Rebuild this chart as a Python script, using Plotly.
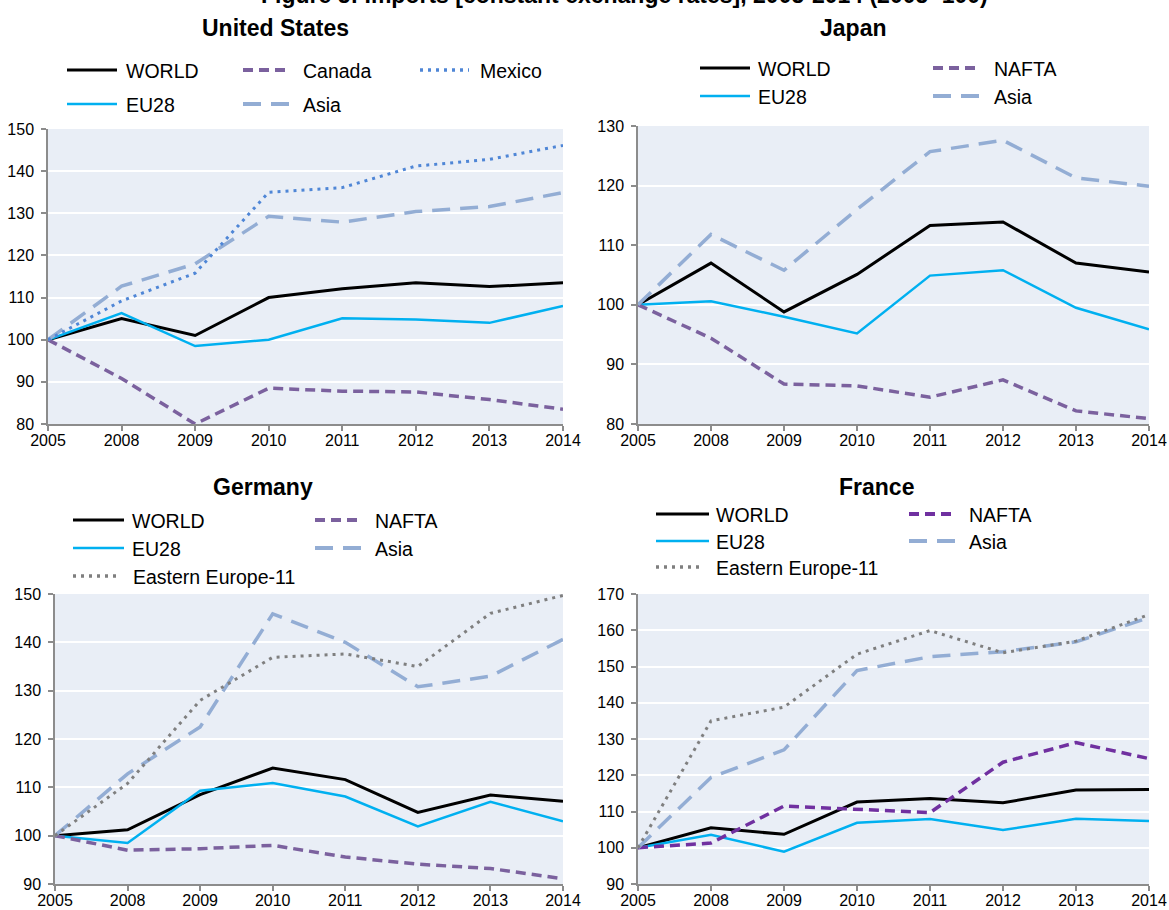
import plotly.graph_objects as go

W, H = 1169, 910

years = ["2005", "2008", "2009", "2010", "2011", "2012", "2013", "2014"]

# United States
us_world = [100, 105.0, 101.0, 110.0, 112.1, 113.5, 112.6, 113.5]
us_eu28 = [100, 106.3, 98.5, 100.0, 105.1, 104.8, 104.0, 108.0]
us_canada = [100, 90.8, 80.0, 88.5, 87.8, 87.6, 85.8, 83.5]
us_mexico = [100, 109.2, 115.8, 135.0, 136.1, 141.2, 142.8, 146.1]
us_asia = [100, 112.7, 118.0, 129.3, 127.9, 130.4, 131.6, 134.9]

# Japan
jp_world = [100, 107.0, 98.8, 105.1, 113.3, 113.9, 107.0, 105.5]
jp_eu28 = [100, 100.6, 98.0, 95.2, 104.9, 105.8, 99.5, 95.9]
jp_nafta = [100, 94.4, 86.7, 86.4, 84.5, 87.4, 82.2, 80.9]
jp_asia = [100, 111.8, 105.8, 116.0, 125.7, 127.6, 121.3, 119.9]

# Germany
de_world = [100, 101.2, 108.5, 114.0, 111.6, 104.8, 108.4, 107.1]
de_eu28 = [100, 98.5, 109.3, 110.9, 108.1, 101.9, 107.0, 103.0]
de_nafta = [100, 97.0, 97.3, 98.0, 95.6, 94.1, 93.2, 91.1]
de_asia = [100, 112.8, 122.5, 145.9, 140.0, 130.8, 133.0, 140.6]
de_ee11 = [100, 110.8, 128.0, 136.9, 137.6, 135.0, 146.0, 149.7]

# France
fr_world = [100, 105.5, 103.7, 112.6, 113.6, 112.4, 115.9, 116.1]
fr_eu28 = [100, 103.6, 98.9, 106.9, 107.9, 104.9, 108.0, 107.4]
fr_nafta = [100, 101.3, 111.5, 110.6, 109.7, 123.6, 129.0, 124.6]
fr_asia = [100, 119.4, 127.0, 148.9, 152.7, 154.1, 156.8, 163.5]
fr_ee11 = [100, 135.0, 138.8, 153.4, 159.9, 153.8, 157.0, 164.3]

titles = ["United States", "Japan", "Germany", "France"]
main_title = "Figure 5: Imports [constant exchange rates], 2005-2014 (2005=100)"

# ---------------- styles ----------------
FONT = "Arial, Liberation Sans, sans-serif"
TICK_SIZE = 16
LEG_SIZE = 19.5
TITLE_SIZE = 23
STY = {
    "world": dict(color="#000000", width=3, dash="solid"),
    "eu28": dict(color="#00B0F0", width=2.5, dash="solid"),
    "purple": dict(color="#7B619E", width=3.5, dash="10px,6px"),
    "purple_fr": dict(color="#7030A0", width=3.5, dash="10px,6px"),
    "mexico": dict(color="#4F86D6", width=3, dash="3px,5px"),
    "asia": dict(color="#93ADD4", width=3.5, dash="18px,10px"),
    "ee11": dict(color="#7F7F7F", width=3, dash="3px,5px"),
}

panels = [
    dict(series=[("WORLD", us_world, "world"), ("EU28", us_eu28, "eu28"),
                 ("Canada", us_canada, "purple"), ("Asia", us_asia, "asia"),
                 ("Mexico", us_mexico, "mexico")],
         xpx=(48, 563), ypx=(129, 424), yr=(80, 150),
         title_px=(275, 28),
         legend=[("WORLD", "world", 67, 117, 124, 70), ("Canada", "purple", 243, 289, 301, 70),
                 ("Mexico", "mexico", 420, 469, 478, 70), ("EU28", "eu28", 67, 117, 124, 104),
                 ("Asia", "asia", 243, 289, 301, 104)]),
    dict(series=[("WORLD", jp_world, "world"), ("EU28", jp_eu28, "eu28"),
                 ("NAFTA", jp_nafta, "purple"), ("Asia", jp_asia, "asia")],
         xpx=(638, 1149), ypx=(126, 424), yr=(80, 130),
         title_px=(853, 28),
         legend=[("WORLD", "world", 700, 750, 756, 68), ("NAFTA", "purple", 933, 980, 992, 68),
                 ("EU28", "eu28", 700, 750, 756, 96), ("Asia", "asia", 933, 980, 992, 96)]),
    dict(series=[("WORLD", de_world, "world"), ("EU28", de_eu28, "eu28"),
                 ("NAFTA", de_nafta, "purple"), ("Asia", de_asia, "asia"),
                 ("Eastern Europe-11", de_ee11, "ee11")],
         xpx=(55, 563), ypx=(594, 884), yr=(90, 150),
         title_px=(263, 487),
         legend=[("WORLD", "world", 73, 124, 130, 520), ("NAFTA", "purple", 315, 362, 373, 520),
                 ("EU28", "eu28", 73, 124, 130, 548), ("Asia", "asia", 315, 362, 373, 548),
                 ("Eastern Europe-11", "ee11", 73, 120, 131, 576)]),
    dict(series=[("WORLD", fr_world, "world"), ("EU28", fr_eu28, "eu28"),
                 ("NAFTA", fr_nafta, "purple_fr"), ("Asia", fr_asia, "asia"),
                 ("Eastern Europe-11", fr_ee11, "ee11")],
         xpx=(638, 1149), ypx=(594, 884), yr=(90, 170),
         title_px=(876, 487),
         legend=[("WORLD", "world", 656, 709, 714, 514), ("NAFTA", "purple_fr", 909, 956, 967, 514),
                 ("EU28", "eu28", 656, 709, 714, 541), ("Asia", "asia", 909, 956, 967, 541),
                 ("Eastern Europe-11", "ee11", 656, 703, 714, 567)]),
]


def px_x(x):
    return x / W


def px_y(y):
    return 1 - y / H


fig = go.Figure()
shapes = []
annotations = []
layout = {}

for i, p in enumerate(panels):
    n = "" if i == 0 else str(i + 1)
    xa, ya = "x" + n, "y" + n
    for name, vals, sk in p["series"]:
        s = STY[sk]
        fig.add_trace(go.Scatter(
            x=years, y=vals, name=name, mode="lines", xaxis=xa, yaxis=ya,
            line=dict(color=s["color"], width=s["width"], dash=s["dash"]),
            showlegend=False, cliponaxis=False, hoverinfo="x+y+name"))
    axis_common = dict(
        zeroline=False, showline=True, linecolor="#8C8C8C", linewidth=1.5,
        ticks="outside", ticklen=5, tickwidth=1.5, tickcolor="#8C8C8C",
        tickfont=dict(family=FONT, size=TICK_SIZE, color="#000000"),
        layer="below traces", fixedrange=True, automargin=False)
    layout["xaxis" + n] = dict(
        domain=[px_x(p["xpx"][0]), px_x(p["xpx"][1])], anchor=ya,
        type="category", categoryorder="array", categoryarray=years,
        range=[0, len(years) - 1], showgrid=False, ticklabelstandoff=-4, **axis_common)
    layout["yaxis" + n] = dict(
        domain=[px_y(p["ypx"][1]), px_y(p["ypx"][0])], anchor=xa,
        range=list(p["yr"]), dtick=10, tick0=0, showgrid=True,
        gridcolor="#FFFFFF", gridwidth=1.5, ticklabelstandoff=4, **axis_common)
    # plot background
    shapes.append(dict(type="rect", xref="paper", yref="paper", layer="below",
                       x0=px_x(p["xpx"][0]), x1=px_x(p["xpx"][1]),
                       y0=px_y(p["ypx"][1]), y1=px_y(p["ypx"][0]),
                       fillcolor="#E9EEF6", line=dict(width=0)))
    # panel title
    annotations.append(dict(text="<b>%s</b>" % titles[i], xref="paper", yref="paper",
                            x=px_x(p["title_px"][0]), y=px_y(p["title_px"][1]),
                            xanchor="center", yanchor="middle", showarrow=False,
                            font=dict(family=FONT, size=TITLE_SIZE, color="#000000")))
    # legend
    for label, sk, lx0, lx1, tx, ly in p["legend"]:
        s = STY[sk]
        shapes.append(dict(type="line", xref="paper", yref="paper",
                           x0=px_x(lx0), x1=px_x(lx1), y0=px_y(ly), y1=px_y(ly),
                           line=dict(color=s["color"],
                                     width=s["width"] + 0.5 if s["dash"] != "solid" else s["width"],
                                     dash=s["dash"])))
        annotations.append(dict(text=label, xref="paper", yref="paper",
                                x=px_x(tx), y=px_y(ly + 1), xanchor="left", yanchor="middle",
                                showarrow=False,
                                font=dict(family=FONT, size=LEG_SIZE, color="#000000")))

annotations.append(dict(text="<b>%s</b>" % main_title, xref="paper", yref="paper",
                        x=px_x(624), y=px_y(10), xanchor="center", yanchor="bottom",
                        showarrow=False, font=dict(family=FONT, size=TITLE_SIZE, color="#000000")))

fig.update_layout(
    width=W, height=H, margin=dict(l=0, r=0, t=0, b=0, autoexpand=False),
    paper_bgcolor="#FFFFFF", plot_bgcolor="rgba(0,0,0,0)",
    showlegend=False, shapes=shapes, annotations=annotations,
    font=dict(family=FONT, color="#000000"),
    **layout)

fig.write_html("out.html", config={"displayModeBar": False},
               post_script="document.body.style.margin='0';document.body.style.overflow='hidden';")
